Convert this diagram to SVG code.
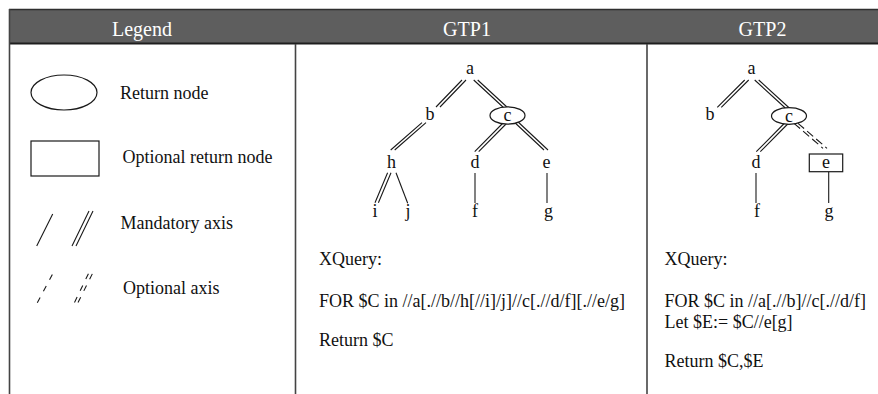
<svg xmlns="http://www.w3.org/2000/svg" width="878" height="394" viewBox="0 0 878 394">
<style>
text{font-family:"Liberation Serif","Times New Roman",serif;fill:#111;}
.hd{font-size:20px;fill:#fff;text-anchor:middle;}
.lb{font-size:18px;}
.nd{font-size:18px;text-anchor:middle;}
.ln{stroke:#1a1a1a;stroke-width:1.1;fill:none;}
.dash{stroke-dasharray:8 4;}
.ldash{stroke-dasharray:6 7;}
.shape{fill:#fff;stroke:#1a1a1a;stroke-width:1.2;}
.grid{stroke:#444;stroke-width:1.6;fill:none;}
</style>
<rect width="878" height="394" fill="#fff"/>
<g id="table">
<rect x="9" y="9" width="869" height="35" fill="#5e5e5e"/>
<line x1="9" y1="9.5" x2="878" y2="9.5" stroke="#2e2e2e" stroke-width="1.5"/>
<line x1="9" y1="43.5" x2="878" y2="43.5" stroke="#1e1e1e" stroke-width="2"/>
<line class="grid" x1="9.5" y1="9" x2="9.5" y2="394"/>
<line class="grid" x1="295.5" y1="44" x2="295.5" y2="394"/>
<line class="grid" x1="647" y1="44" x2="647" y2="394"/>
<text class="hd" x="142" y="36">Legend</text>
<text class="hd" x="467" y="36">GTP1</text>
<text class="hd" x="762.5" y="36">GTP2</text>
</g>
<g id="legend">
<g id="legend-return"><ellipse class="shape" cx="64" cy="92.5" rx="33" ry="17.5"/><text class="lb" x="120" y="99">Return node</text></g>
<g id="legend-optional"><rect class="shape" x="31" y="141" width="68" height="35"/><text class="lb" x="122.5" y="162.5">Optional return node</text></g>
<g id="legend-mandatory"><path class="ln" d="M36.7 246 L52.7 214 M72 246 L89 211 M76 246 L93 211"/><text class="lb" x="120.5" y="228.5">Mandatory axis</text></g>
<g id="legend-optaxis"><path class="ln ldash" d="M37.3 302.7 L53.3 272.7"/><path class="ln ldash" d="M74.5 302.5 L89 272.5 M78 302.5 L93 272.5"/><text class="lb" x="123" y="294">Optional axis</text></g>
</g>
<g id="connectors">
<path class="ln" d="M462 80 L436 107 M466 80 L440 107"/>
<path class="ln" d="M473.7 80 L504 108 M477.7 80 L508 108"/>
<path class="ln" d="M422 122.7 L390.7 150 M426 122.7 L394.7 150"/>
<path class="ln" d="M504 122 L474.7 151.7 M508 122 L478.7 151.7"/>
<path class="ln" d="M512 120 L544 150 M516 120 L548 150"/>
<path class="ln" d="M387.6 172.7 L375 202.7 M391 172.7 L378.4 202.7"/>
<path class="ln" d="M396 172.7 L407.7 203.3"/>
<path class="ln" d="M475 173 L475 203"/>
<path class="ln" d="M547 173 L547 203"/>
<path class="ln" d="M744.7 80 L717.3 107.3 M748.7 80 L721.3 107.3"/>
<path class="ln" d="M754.7 80 L785.3 108 M758.7 80 L789.3 108"/>
<path class="ln" d="M784.7 123 L756.3 151.7 M788.7 123 L760.3 151.7"/>
<path class="ln dash" d="M794 123.3 L823 148.3"/>
<path class="ln dash" d="M798 123.3 L827 148.3"/>
<path class="ln" d="M756 173 L756 203"/>
<path class="ln" d="M828.7 171.7 L828.7 203"/>
</g>
<g id="gtp1-a"><text class="nd" x="470" y="74">a</text></g>
<g id="gtp1-b"><text class="nd" x="430" y="120">b</text></g>
<g id="gtp1-c"><ellipse class="shape" cx="507.5" cy="115.5" rx="17.5" ry="8.7"/><text class="nd" x="507.5" y="121">c</text></g>
<g id="gtp1-h"><text class="nd" x="391.5" y="168">h</text></g>
<g id="gtp1-d"><text class="nd" x="475" y="168">d</text></g>
<g id="gtp1-e"><text class="nd" x="546.5" y="168">e</text></g>
<g id="gtp1-i"><text class="nd" x="375" y="216.5">i</text></g>
<g id="gtp1-j"><text class="nd" x="408" y="216.5">j</text></g>
<g id="gtp1-f"><text class="nd" x="475" y="216.5">f</text></g>
<g id="gtp1-g"><text class="nd" x="548.5" y="216.5">g</text></g>
<g id="gtp2-a"><text class="nd" x="751.5" y="74">a</text></g>
<g id="gtp2-b"><text class="nd" x="710" y="120">b</text></g>
<g id="gtp2-c"><ellipse class="shape" cx="789" cy="116" rx="17.5" ry="8.3"/><text class="nd" x="789" y="121.5">c</text></g>
<g id="gtp2-d"><text class="nd" x="756" y="168">d</text></g>
<g id="gtp2-e"><rect class="shape" x="809.3" y="154" width="33.4" height="17.7"/><text class="nd" x="826" y="168">e</text></g>
<g id="gtp2-f"><text class="nd" x="757" y="216.5">f</text></g>
<g id="gtp2-g"><text class="nd" x="829" y="216.5">g</text></g>
<g id="gtp1-query">
<text class="lb" x="319" y="265">XQuery:</text>
<text class="lb" x="319" y="307">FOR $C in //a[.//b//h[//i]/j]//c[.//d/f][.//e/g]</text>
<text class="lb" x="319" y="346">Return $C</text>
</g>
<g id="gtp2-query">
<text class="lb" x="664.5" y="265">XQuery:</text>
<text class="lb" x="664.5" y="307">FOR $C in //a[.//b]//c[.//d/f]</text>
<text class="lb" x="664.5" y="327.5">Let $E:= $C//e[g]</text>
<text class="lb" x="664.5" y="367">Return $C,$E</text>
</g>
</svg>
